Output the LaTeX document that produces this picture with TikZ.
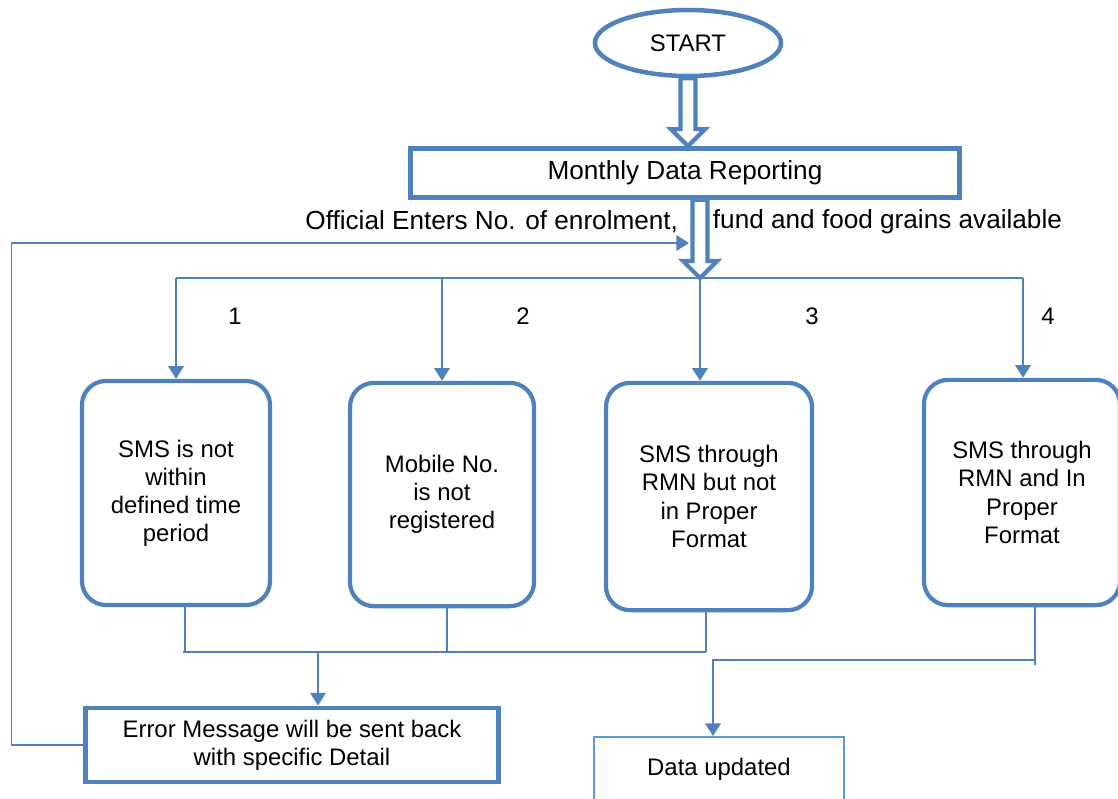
\documentclass[tikz,border=0pt]{standalone}
\usepackage{fontspec}
\setmainfont{Liberation Sans}
\usetikzlibrary{shapes.geometric,arrows.meta,calc}

\definecolor{flowblue}{RGB}{79,129,189}
\definecolor{lightblue}{RGB}{91,155,213}

\newcommand{\hollowarrow}[2]{%
  \draw[flowblue, line width=3pt, fill=white]
    ($(#1)+(-7.5,0)$) -- ($(#2)+(-7.5,-17)$) -- ($(#2)+(-17,-17)$) -- (#2)
    -- ($(#2)+(17,-17)$) -- ($(#2)+(7.5,-17)$) -- ($(#1)+(7.5,0)$) -- cycle;}

\begin{document}
\begin{tikzpicture}[x=0.025cm, y=-0.025cm]
    \tikzstyle{conn}=[draw=flowblue, line width=1.4pt]
    \tikzstyle{tip}=[-{Triangle[width=11pt,length=9pt]}]
    \tikzstyle{bigtxt}=[font=\fontsize{18.6}{22}\selectfont]
    \tikzstyle{txt}=[font=\fontsize{17}{20}\selectfont, align=center]
    \tikzstyle{roundbox}=[txt, draw=flowblue, line width=3pt, rounded corners=0.6cm,
        minimum width=4.7cm, minimum height=5.6cm]
    \tikzstyle{sqbox}=[txt, draw=flowblue, line width=3.5pt]
    \useasboundingbox (0,0) rectangle (1118,798);

    \node[txt, ellipse, draw=flowblue, line width=3.2pt, minimum width=4.65cm,
        minimum height=1.65cm] (start) at (688,43) {START};
    \node[sqbox, bigtxt, minimum width=13.7cm, minimum height=1.22cm] (mon) at (685,173)
        {Monthly Data Reporting};
    \node[bigtxt, anchor=east] (offa) at (683,222) {Official Enters No. of enrolment,};
    \node[bigtxt, anchor=west] (offb) at (708,222) {fund and food grains available};

    \node[roundbox] (b1) at (176,493) {SMS is not\\within\\defined time\\period};
    \node[roundbox, minimum width=4.6cm, minimum height=5.58cm] (b2) at (442,494.5)
        {Mobile No.\\is not\\registered};
    \node[roundbox, minimum width=5.15cm, minimum height=5.68cm] (b3) at (709,496.5)
        {SMS through\\RMN but not\\in Proper\\Format};
    \node[roundbox, minimum width=4.9cm, minimum height=5.63cm] (b4) at (1022,492.5)
        {SMS through\\RMN and In\\Proper\\Format};

    \node[txt] (n1) at (235,316) {1};
    \node[txt] (n2) at (523,316) {2};
    \node[txt] (n3) at (812,316) {3};
    \node[txt] (n4) at (1048,316) {4};

    \node[sqbox, minimum width=10.3cm, minimum height=1.85cm] (err) at (292,745)
        {Error Message will be sent back\\with specific Detail};
    \node[txt, draw=lightblue, line width=1.4pt, minimum width=6.25cm,
        minimum height=1.6cm] (data) at (719,769) {Data updated};

    \coordinate (split) at (700,278);
    \coordinate (loopin) at (689,243);
    \coordinate (mergel) at (318,652);
    \coordinate (merger) at (713,660);

    % split into the four cases
    \draw[conn] (b1.north |- split) -- ($(b4.north |- split)+(1,0)$);
    \draw[conn,tip] (b1.north |- split) -- (b1.north);
    \draw[conn,tip] (b2.north |- split) -- (b2.north);
    \draw[conn,tip] (split) -- (split |- b3.north);
    \draw[conn,tip] ($(b4.north |- split)+(1,0)$) -- ($(b4.north)+(1,0)$);

    % cases 1 to 3 give an error
    \draw[conn] ($(b1.south)+(9,0)$) -- ($(b1.south |- mergel)+(9,0)$);
    \draw[conn] ($(b2.south)+(5,0)$) -- ($(b2.south |- mergel)+(5,0)$);
    \draw[conn] ($(b3.south)+(-3,0)$) -- ($(b3.south |- mergel)+(-3,0)$);
    \draw[conn] ($(b1.south |- mergel)+(7,0)$) -- ($(b3.south |- mergel)+(-3,0)$);
    \draw[conn,tip] (mergel) -- (mergel |- err.north);
    \draw[conn,tip] (err.west) -- ++(-72,0) |- (loopin);

    % case 4 updates the data
    \draw[conn] ($(b4.south)+(13,0)$) -- ++(0,58);
    \draw[conn,tip] ($(b4.south |- merger)+(13,0)$) -- (merger) -- (merger |- data.north);

    \coordinate (a1top) at (start.south);
    \coordinate (a1tip) at (start.south |- mon.north);
    \coordinate (a2top) at (split |- mon.south);
    \hollowarrow{a1top}{a1tip}
    \hollowarrow{a2top}{split}
\end{tikzpicture}
\end{document}
